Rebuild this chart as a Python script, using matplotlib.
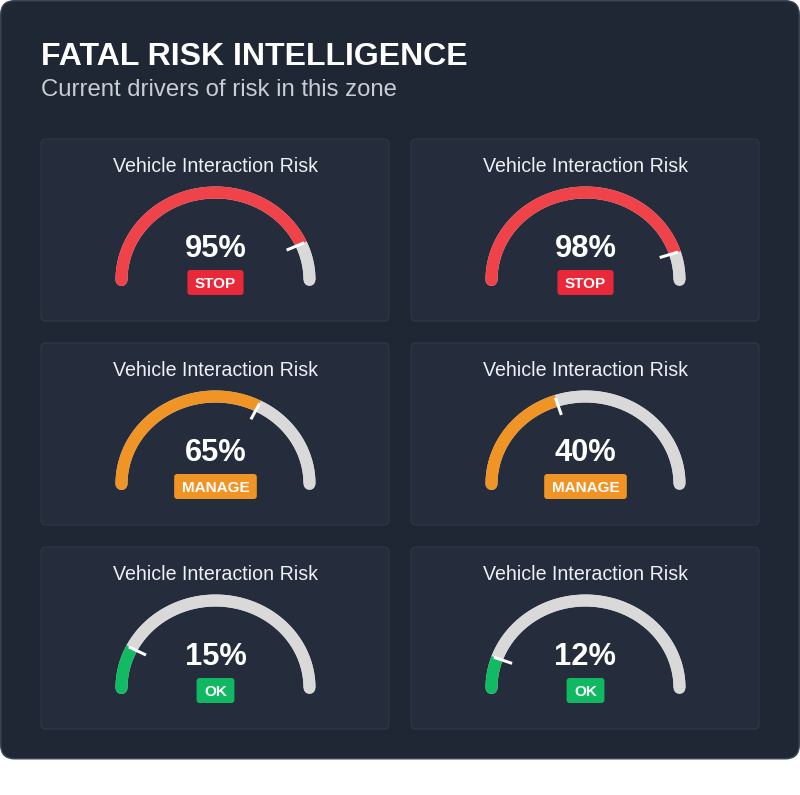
import numpy as np
import matplotlib.pyplot as plt
from matplotlib.patches import FancyBboxPatch

plt.rcParams['font.family'] = ['Liberation Sans', 'DejaVu Sans']

# data
card_titles = ['Vehicle Interaction Risk'] * 6
pct_labels = [95, 98, 65, 40, 15, 12]
# where the coloured fill / white marker sits on the dial (0-100 of the half circle)
fill_positions = [86.5, 90, 65, 40, 15, 11]
statuses = ['STOP', 'STOP', 'MANAGE', 'MANAGE', 'OK', 'OK']

title = 'FATAL RISK INTELLIGENCE'
subtitle = 'Current drivers of risk in this zone'

arc_colors = {'STOP': '#ef4249', 'MANAGE': '#f09426', 'OK': '#11bb64'}
badge_colors = {'STOP': '#e9283a', 'MANAGE': '#f09426', 'OK': '#10b862'}
track_color = '#d9d9d9'
bg_color = '#1f2735'
card_color = '#252d3c'
card_edge = '#303a4a'

px = 72 / 100  # pixels -> points at dpi 100

fig = plt.figure(figsize=(8, 7.95), dpi=100)
fig.patch.set_facecolor('white')
ax = fig.add_axes([0, 0, 1, 1])
ax.set_xlim(0, 800)
ax.set_ylim(795, 0)
ax.axis('off')
renderer = fig.canvas.get_renderer()

# outer panel
ax.add_patch(FancyBboxPatch((0.75, 0.75), 798.5, 758, boxstyle='round,pad=0,rounding_size=14',
                            fc=bg_color, ec='#3a4453', lw=1.5 * px))

ax.text(41, 65, title, color='white', fontsize=23, fontweight='bold', va='baseline')
ax.text(41, 96, subtitle, color='#c9cdd4', fontsize=17.2, va='baseline')

rx, ry = 94, 87.5   # dial is slightly squashed vertically
for i in range(len(pct_labels)):
    row, col = divmod(i, 2)
    x0 = 41 + col * 370
    y0 = 139 + row * 204
    cx = x0 + 174.5
    cy = y0 + 141

    ax.add_patch(FancyBboxPatch((x0, y0), 348, 182, boxstyle='round,pad=0,rounding_size=5',
                                fc=card_color, ec=card_edge, lw=1 * px))
    ax.text(cx, y0 + 33, card_titles[i], color='#eef0f3', fontsize=14.1,
            ha='center', va='baseline')

    col_arc = arc_colors[statuses[i]]
    frac = fill_positions[i] / 100
    t_all = np.linspace(np.pi, 0, 200)
    t_val = np.linspace(np.pi, np.pi * (1 - frac), 200)
    t_rest = np.linspace(np.pi * (1 - frac), 0, 200)
    ax.plot(cx + rx * np.cos(t_all), cy - ry * np.sin(t_all), color=track_color,
            lw=12 * px, solid_capstyle='round')
    ax.plot(cx + rx * np.cos(t_val), cy - ry * np.sin(t_val), color=col_arc,
            lw=12 * px, solid_capstyle='round')
    ax.plot(cx + rx * np.cos(t_rest), cy - ry * np.sin(t_rest), color=track_color,
            lw=12 * px, solid_capstyle='butt')
    # white marker at the value
    tv = np.pi * (1 - frac)
    s = np.array([0.83, 1.035])
    ax.plot(cx + s * rx * np.cos(tv), cy - s * ry * np.sin(tv),
            color='white', lw=3 * px, solid_capstyle='butt')

    ax.text(cx, y0 + 118.3, f'{pct_labels[i]}%', color='white', fontsize=22.2,
            fontweight='bold', ha='center', va='baseline')

    # status badge sized to its text
    t = ax.text(cx, y0 + 148.8, statuses[i], color='white', fontsize=11, fontweight='bold',
                ha='center', va='baseline', zorder=5)
    tw = t.get_window_extent(renderer).width
    bw = tw + 15
    ax.add_patch(FancyBboxPatch((cx - bw / 2, y0 + 131), bw, 25,
                                boxstyle='round,pad=0,rounding_size=3',
                                fc=badge_colors[statuses[i]], ec='none', zorder=4))

fig.savefig('out.png', dpi=100)
